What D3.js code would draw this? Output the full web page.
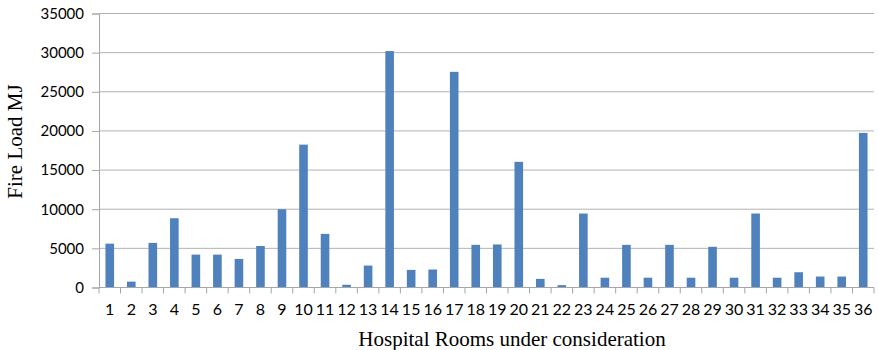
<!DOCTYPE html>
<html>
<head>
<meta charset="utf-8">
<script src="https://cdn.jsdelivr.net/npm/d3@7"></script>
<style>
  html, body { margin: 0; padding: 0; background: #fff; }
  svg { display: block; }
</style>
</head>
<body>
<svg id="chart" width="878" height="350"></svg>
<script>
// Hospital rooms (1..36) and their fire load in MJ
const rooms = d3.range(1, 37).map(String);
const fireLoad = [
  5600, 750, 5700, 8850, 4200, 4200, 3650, 5300, 10000, 18250,
  6850, 350, 2800, 30200, 2250, 2300, 27550, 5450, 5500, 16050,
  1100, 300, 9450, 1250, 5450, 1250, 5450, 1250, 5200, 1250,
  9450, 1250, 1950, 1400, 1400, 19750
];
const yTicks = [0, 5000, 10000, 15000, 20000, 25000, 30000, 35000];

const svg = d3.select("#chart");
const plotLeft = 99, plotRight = 874, plotTop = 13.5, plotBottom = 287.5;

const x = d3.scaleBand().domain(rooms).range([plotLeft, plotRight]).paddingInner(0.6).paddingOuter(0.3);
const xEdges = d3.scaleLinear().domain([0, rooms.length]).range([plotLeft, plotRight]);
const y = d3.scaleLinear().domain([0, 35000]).range([plotBottom, plotTop]);

// horizontal gridlines
svg.append("g")
  .selectAll("line")
  .data(yTicks.filter(d => d > 0))
  .join("line")
  .attr("x1", plotLeft).attr("x2", plotRight)
  .attr("y1", d => y(d)).attr("y2", d => y(d))
  .attr("stroke", "#b3b3b3").attr("stroke-width", 1);

// bars
svg.append("g")
  .selectAll("rect")
  .data(fireLoad)
  .join("rect")
  .attr("x", (d, i) => x(rooms[i]))
  .attr("width", x.bandwidth())
  .attr("y", d => y(d))
  .attr("height", d => y(0) - y(d))
  .attr("fill", "#4f81bd");

// y axis
const yAxis = svg.append("g")
  .attr("transform", `translate(${plotLeft},0)`)
  .call(d3.axisLeft(y).tickValues(yTicks).tickSize(7).tickPadding(8).tickFormat(d3.format("d")));
yAxis.select(".domain").attr("stroke", "#a6a6a6");
yAxis.selectAll(".tick line").attr("stroke", "#a6a6a6");
yAxis.selectAll("text")
  .attr("font-family", "Lato, 'Open Sans', sans-serif")
  .attr("font-size", "15px")
  .attr("fill", "#000");

// x axis: line with ticks at category boundaries
const xAxisG = svg.append("g").attr("transform", `translate(0,${plotBottom})`);
xAxisG.append("line")
  .attr("x1", plotLeft).attr("x2", plotRight)
  .attr("y1", 0).attr("y2", 0)
  .attr("stroke", "#a6a6a6");
xAxisG.selectAll("line.tk")
  .data(d3.range(0, rooms.length + 1))
  .join("line")
  .attr("class", "tk")
  .attr("x1", d => xEdges(d)).attr("x2", d => xEdges(d))
  .attr("y1", 0).attr("y2", 6)
  .attr("stroke", "#a6a6a6");
xAxisG.selectAll("text")
  .data(rooms)
  .join("text")
  .attr("x", d => x(d) + x.bandwidth() / 2)
  .attr("y", 27)
  .attr("text-anchor", "middle")
  .attr("font-family", "Lato, 'Open Sans', sans-serif")
  .attr("font-size", "16px")
  .attr("fill", "#000")
  .text(d => d);

// axis titles
svg.append("text")
  .attr("transform", "translate(22,141.5) rotate(-90)")
  .attr("text-anchor", "middle")
  .attr("font-family", "'Liberation Serif', 'Times New Roman', serif")
  .attr("font-size", "21px")
  .attr("fill", "#000")
  .text("Fire Load MJ");

svg.append("text")
  .attr("x", 512)
  .attr("y", 346)
  .attr("text-anchor", "middle")
  .attr("font-family", "'Liberation Serif', 'Times New Roman', serif")
  .attr("font-size", "21px")
  .attr("fill", "#000")
  .text("Hospital Rooms under consideration");
</script>
</body>
</html>
